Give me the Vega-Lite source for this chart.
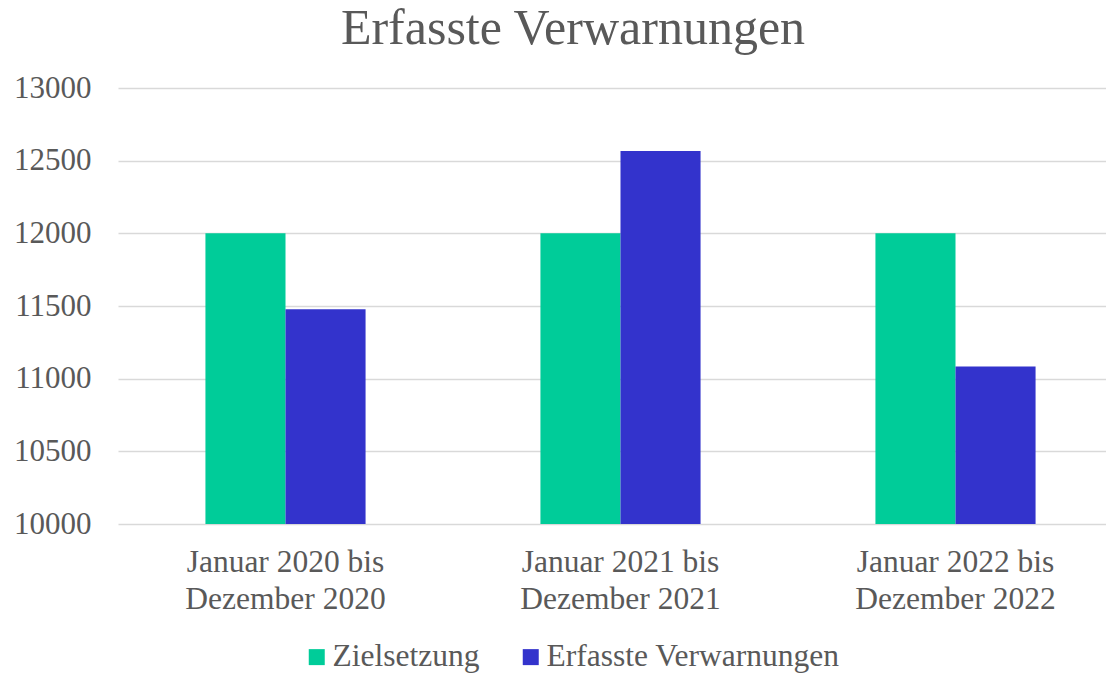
{
  "$schema": "https://vega.github.io/schema/vega-lite/v6.json",
  "autosize": "none",
  "width": 988,
  "height": 436,
  "padding": {"left": 118, "top": 88, "right": 0, "bottom": 150},
  "background": "white",
  "title": {
    "text": "Erfasste Verwarnungen",
    "font": "Liberation Serif",
    "fontSize": 50,
    "fontWeight": "normal",
    "color": "#595959",
    "anchor": "middle",
    "offset": 18,
    "dx": -39
  },
  "data": {
    "values": [
      {"Zeitraum": "Januar 2020 bis Dezember 2020", "Reihe": "Zielsetzung", "Wert": 12000},
      {"Zeitraum": "Januar 2020 bis Dezember 2020", "Reihe": "Erfasste Verwarnungen", "Wert": 11478},
      {"Zeitraum": "Januar 2021 bis Dezember 2021", "Reihe": "Zielsetzung", "Wert": 12000},
      {"Zeitraum": "Januar 2021 bis Dezember 2021", "Reihe": "Erfasste Verwarnungen", "Wert": 12566},
      {"Zeitraum": "Januar 2022 bis Dezember 2022", "Reihe": "Zielsetzung", "Wert": 12000},
      {"Zeitraum": "Januar 2022 bis Dezember 2022", "Reihe": "Erfasste Verwarnungen", "Wert": 11084}
    ]
  },
  "mark": {"type": "bar", "clip": true},
  "encoding": {
    "x": {
      "field": "Zeitraum",
      "type": "nominal",
      "sort": null,
      "scale": {"range": [0, 1005], "paddingInner": 0.522, "paddingOuter": 0.261},
      "axis": {
        "title": null,
        "domain": false,
        "ticks": false,
        "labelAngle": 0,
        "labelFont": "Liberation Serif",
        "labelFontSize": 31.5,
        "labelColor": "#595959",
        "labelLineHeight": 37,
        "labelPadding": 22,
        "labelLimit": 0,
        "labelExpr": "[substring(datum.label, 0, 15), substring(datum.label, 16)]"
      }
    },
    "xOffset": {
      "field": "Reihe",
      "type": "nominal",
      "scale": {"domain": ["Zielsetzung", "Erfasste Verwarnungen"], "paddingInner": 0, "paddingOuter": 0}
    },
    "y": {
      "field": "Wert",
      "type": "quantitative",
      "scale": {"domain": [10000, 13000], "zero": false, "nice": false},
      "axis": {
        "title": null,
        "domain": false,
        "ticks": false,
        "values": [10000, 10500, 11000, 11500, 12000, 12500, 13000],
        "format": "d",
        "labelFont": "Liberation Serif",
        "labelFontSize": 31,
        "labelColor": "#595959",
        "labelPadding": 27,
        "gridColor": "#d9d9d9",
        "gridWidth": 1.5
      }
    },
    "color": {
      "field": "Reihe",
      "type": "nominal",
      "scale": {"domain": ["Zielsetzung", "Erfasste Verwarnungen"], "range": ["#00cc99", "#3333cc"]},
      "legend": {
        "title": null,
        "orient": "none",
        "direction": "horizontal",
        "legendX": 183,
        "legendY": 553,
        "symbolType": "square",
        "symbolSize": 256,
        "symbolStrokeWidth": 0,
        "symbolOpacity": 1,
        "labelFont": "Liberation Serif",
        "labelFontSize": 31.5,
        "labelColor": "#595959",
        "labelOffset": 0,
        "labelLimit": 0,
        "columnPadding": 35
      }
    }
  },
  "config": {"view": {"stroke": null}}
}
